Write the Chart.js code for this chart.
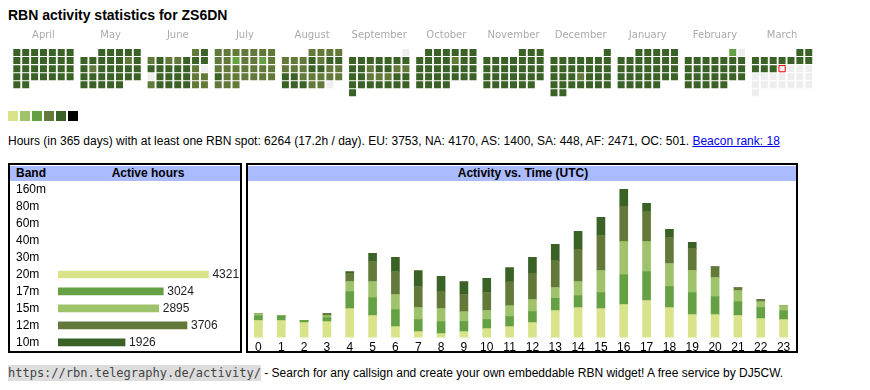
<!DOCTYPE html>
<html>
<head>
<meta charset="utf-8">
<script src="https://cdn.jsdelivr.net/npm/chart.js@4.4.1/dist/chart.umd.min.js"></script>
<style>
  body { margin: 0; background: #fff; font-family: Arial, "Liberation Sans", sans-serif; color: #000; }
  .abs { position: absolute; }
  #title { left: 8px; top: 7px; font-size: 14px; font-weight: bold; }
  .sq { position: absolute; top: 111px; width: 10px; height: 10px; }
  #hours { left: 8px; top: 134px; font-size: 12px; white-space: nowrap; }
  #hours a { color: #00e; }
  .box { position: absolute; border: 2px solid #000; top: 163px; height: 186px; z-index: 2; pointer-events: none; }
  .head { position: absolute; top: 166px; height: 15px; background: #aabbff; font-size: 12px; font-weight: bold; line-height: 15px; }
  #foot { left: 8px; top: 366px; font-size: 12px; white-space: nowrap; }
  #foot code { font-family: "DejaVu Sans Mono", monospace; font-size: 12px; background: #ddd; color: #444; padding: 1px 0; }
</style>
</head>
<body>
<div id="title" class="abs">RBN activity statistics for ZS6DN</div>
<canvas id="calendar" class="abs" width="870" height="105" style="left:0;top:0"></canvas>
<div id="legend"></div>
<div id="hours" class="abs">Hours (in 365 days) with at least one RBN spot: 6264 (17.2h / day). EU: 3753, NA: 4170, AS: 1400, SA: 448, AF: 2471, OC: 501. <a href="#">Beacon rank: 18</a></div>

<div class="head" style="left:10px;width:232px">
  <span style="position:absolute;left:6px">Band</span>
  <span style="position:absolute;left:0;width:276px;text-align:center">Active hours</span>
</div>
<div class="head" style="left:248px;width:550px;text-align:center">Activity vs. Time (UTC)</div>
<canvas id="bandChart" class="abs" width="229" height="184" style="left:10px;top:174px"></canvas>
<canvas id="hourChart" class="abs" width="548" height="177" style="left:247px;top:181px"></canvas>
<div class="box" style="left:8px;width:230px"></div>
<div class="box" style="left:246px;width:548px"></div>

<div id="foot" class="abs"><code>https://rbn.telegraphy.de/activity/</code> - Search for any callsign and create your own embeddable RBN widget! A free service by DJ5CW.</div>

<script>
// calendar: one string per month, one digit per day (0 = no spot, '-' = not yet)
const months = ['April', 'May', 'June', 'July', 'August', 'September', 'October',
  'November', 'December', 'January', 'February', 'March'];
const monthOffsets = [0, 2, 5, 0, 3, 6, 1, 4, 6, 2, 5, 5]; // weekday of the 1st, Mon = 0
const dayLevels = [
  '555555555555555555555555555555',
  '5555555555455455555555555555555',
  '454544555555554005555444555544',
  '4444444443443444444445444444444',
  '4444444545544455445544444555440',
  '055555555545544554445555555555',
  '5555555555455555555555555555555',
  '555555555555555555555555555555',
  '5555555555555555554555555555555',
  '5555555555555555555555555555555',
  '3055555555555555555555555555',
  '555555555555-------------------'
];
const todayMonth = 11;
const todayDay = 13;
const levelColors = ['#eeeeee', '#d8e38a', '#9fc36b', '#66a045', '#63793a', '#3b6226', '#000000'];

// band table
const bands = ['160m', '80m', '60m', '40m', '30m', '20m', '17m', '15m', '12m', '10m'];
const bandHours = [0, 0, 0, 0, 0, 4321, 3024, 2895, 3706, 1926];
const bandColors = ['#000', '#000', '#000', '#000', '#000', '#d8e38a', '#66a045', '#9fc36b', '#63793a', '#3b6226'];

// activity per UTC hour, stacked bottom to top
const utcHours = ['0', '1', '2', '3', '4', '5', '6', '7', '8', '9', '10', '11',
  '12', '13', '14', '15', '16', '17', '18', '19', '20', '21', '22', '23'];
const act20m = [157, 157, 138, 147, 267, 203, 101, 55, 37, 55, 83, 101, 138, 249, 276, 267, 304, 341, 276, 212, 212, 203, 175, 166];
const act17m = [46, 40, 18, 37, 157, 166, 157, 111, 111, 92, 83, 92, 101, 111, 111, 147, 276, 267, 193, 203, 166, 129, 101, 83];
const act15m = [18, 6, 0, 18, 92, 147, 138, 111, 120, 92, 83, 101, 111, 101, 129, 203, 304, 276, 212, 203, 175, 101, 55, 46];
const act12m = [0, 0, 0, 18, 74, 184, 212, 193, 157, 157, 166, 221, 240, 249, 295, 322, 322, 276, 240, 203, 92, 28, 18, 0];
const act10m = [0, 0, 0, 0, 18, 74, 129, 147, 138, 120, 129, 129, 147, 147, 166, 166, 157, 74, 74, 55, 9, 0, 0, 0];

// legend squares
const legend = document.getElementById('legend');
levelColors.slice(1).forEach((c, i) => {
  const d = document.createElement('div');
  d.className = 'sq';
  d.style.left = (8 + i * 12) + 'px';
  d.style.background = c;
  legend.appendChild(d);
});

// --- calendar as a scatter of square points
const MONTH_W = 68 / 9; // month block width in cell units
const cells = [], cellColors = [], todayCell = [];
dayLevels.forEach((s, m) => {
  for (let d = 0; d < s.length; d++) {
    const pos = monthOffsets[m] + d;
    const pt = { x: m * MONTH_W + (pos % 7), y: Math.floor(pos / 7) };
    if (m === todayMonth && d + 1 === todayDay) { todayCell.push(pt); continue; }
    cells.push(pt);
    const ch = s[d];
    cellColors.push(ch === '-' ? levelColors[0] : levelColors[+ch]);
  }
});

const monthLabels = {
  id: 'monthLabels',
  afterDatasetsDraw(chart) {
    const ctx = chart.ctx, xs = chart.scales.x;
    ctx.save();
    ctx.font = '10px "DejaVu Sans", Verdana, sans-serif';
    ctx.fillStyle = '#aaaaaa';
    ctx.textAlign = 'center';
    ctx.textBaseline = 'middle';
    months.forEach((name, m) => ctx.fillText(name, xs.getPixelForValue(m * MONTH_W + 3), 35.5));
    ctx.restore();
  }
};

const cellR = 7 / Math.SQRT2;
new Chart(document.getElementById('calendar'), {
  type: 'scatter',
  data: {
    datasets: [
      { data: cells, pointStyle: 'rect', pointRadius: cellR, pointHoverRadius: cellR,
        backgroundColor: cellColors, borderWidth: 0 },
      { data: todayCell, pointStyle: 'rect', pointRadius: 6.3 / Math.SQRT2, pointHoverRadius: 6.3 / Math.SQRT2,
        backgroundColor: '#eeeeee', borderColor: '#ff0000', borderWidth: 1 }
    ]
  },
  options: {
    responsive: false,
    animation: false,
    events: [],
    layout: { padding: 0 },
    plugins: { legend: { display: false }, tooltip: { enabled: false } },
    scales: {
      x: { display: false, min: -11.5 / 9, max: -11.5 / 9 + 870 / 9 },
      y: { display: false, reverse: true, min: -52.5 / 9, max: -52.5 / 9 + 105 / 9 }
    }
  },
  plugins: [monthLabels]
});

// --- band table bars
const valueLabels = {
  id: 'valueLabels',
  afterDatasetsDraw(chart) {
    const ctx = chart.ctx;
    ctx.save();
    ctx.font = '12px Arial, "Liberation Sans", sans-serif';
    ctx.fillStyle = '#222';
    ctx.textBaseline = 'middle';
    chart.getDatasetMeta(0).data.forEach((bar, i) => {
      if (bandHours[i] > 0) ctx.fillText(bandHours[i], bar.x + 4, bar.y);
    });
    ctx.restore();
  }
};

new Chart(document.getElementById('bandChart'), {
  type: 'bar',
  data: {
    labels: bands,
    datasets: [{ data: bandHours.map(v => v || null), backgroundColor: bandColors, barThickness: 7 }]
  },
  options: {
    indexAxis: 'y',
    responsive: false,
    animation: false,
    events: [],
    layout: { padding: { left: 6, top: 0, bottom: 0, right: 0 } },
    plugins: { legend: { display: false }, tooltip: { enabled: false } },
    scales: {
      x: { display: false, min: 0, max: 5200 },
      y: {
        grid: { display: false, drawTicks: false },
        border: { display: false },
        afterFit(s) { s.width = 42; },
        ticks: { crossAlign: 'far', padding: 0, autoSkip: false, color: '#000', font: { size: 12, family: 'Arial, "Liberation Sans", sans-serif' } }
      }
    }
  },
  plugins: [valueLabels]
});

// --- activity vs. UTC hour
const stack = [
  ['20m', act20m, '#d8e38a'],
  ['17m', act17m, '#66a045'],
  ['15m', act15m, '#9fc36b'],
  ['12m', act12m, '#63793a'],
  ['10m', act10m, '#3b6226']
];
new Chart(document.getElementById('hourChart'), {
  type: 'bar',
  data: {
    labels: utcHours,
    datasets: stack.map(([label, data, color]) => ({ label, data, backgroundColor: color, barThickness: 8 }))
  },
  options: {
    responsive: false,
    animation: false,
    events: [],
    layout: { padding: 0 },
    plugins: { legend: { display: false }, tooltip: { enabled: false } },
    scales: {
      x: {
        stacked: true,
        grid: { display: false, drawTicks: false },
        border: { display: false },
        ticks: { padding: 3, color: '#000', maxRotation: 0, autoSkip: false, font: { size: 12, family: 'Arial, "Liberation Sans", sans-serif' } }
      },
      y: { stacked: true, display: false, min: 0, max: 1440 }
    }
  }
});
</script>
</body>
</html>
